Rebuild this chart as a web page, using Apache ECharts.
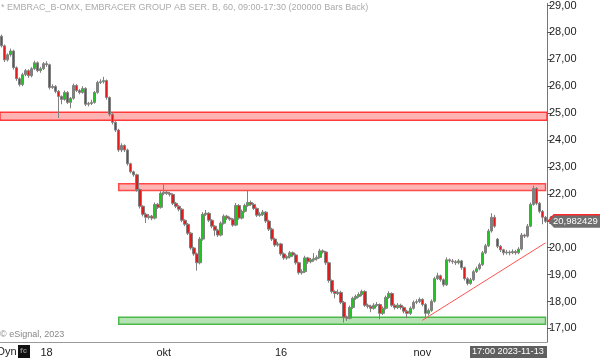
<!DOCTYPE html>
<html><head><meta charset="utf-8">
<script src="https://cdn.jsdelivr.net/npm/echarts@6/dist/echarts.min.js"></script>
<style>html,body{margin:0;padding:0;background:#fff}#c{width:600px;height:358px}</style>
</head><body><div id="c"></div>
<script>
// Hourly OHLC bars (EMBRAC_B)
const opens=[
27.86,27.50,26.98,27.17,27.31,26.69,26.28,26.06,26.43,26.58,
26.39,26.65,26.87,26.58,26.65,26.84,26.80,25.95,25.99,25.81,
25.62,25.51,25.77,25.40,25.55,26.03,25.84,25.77,25.92,25.33,
25.36,25.40,25.77,26.14,26.17,26.21,25.58,24.96,24.66,24.37,
23.63,23.80,23.63,23.12,22.82,22.71,22.16,21.54,21.24,21.13,
21.17,21.10,21.61,21.50,22.02,22.06,22.02,21.98,21.65,21.54,
21.43,21.02,20.87,20.54,19.99,19.77,19.44,20.32,21.24,21.28,
21.02,20.80,20.65,20.47,20.91,21.17,21.10,21.06,20.84,21.57,
21.10,21.35,21.57,21.68,21.61,21.46,21.21,21.24,21.32,20.99,
20.69,20.32,20.10,20.14,19.77,19.62,19.66,19.81,19.73,19.44,
19.07,19.11,19.62,19.48,19.55,19.59,19.64,19.88,19.84,19.44,
18.78,18.37,18.30,18.34,17.97,17.42,17.38,17.78,18.12,18.19,
18.26,18.37,17.86,17.82,17.75,17.86,17.89,17.56,17.75,18.15,
18.30,17.86,17.78,17.86,17.78,17.64,17.56,17.75,17.97,18.00,
18.08,17.89,17.56,17.67,18.01,18.85,18.96,18.81,18.62,19.55,
19.51,19.48,19.44,19.51,19.26,18.85,18.67,18.81,19.11,19.22,
19.37,19.81,20.07,20.62,21.13,20.32,20.05,19.92,19.81,19.84,
19.81,19.86,19.81,19.95,20.47,20.43,20.80,21.61,22.20,21.65,
21.35,21.13];
const closes=[
27.50,26.98,27.17,27.31,26.69,26.28,26.06,26.43,26.58,26.39,
26.65,26.87,26.58,26.65,26.84,26.80,25.95,25.99,25.81,25.62,
25.51,25.77,25.40,25.55,26.03,25.84,25.77,25.92,25.33,25.36,
25.40,25.77,26.14,26.17,26.21,25.58,24.96,24.66,24.37,23.63,
23.80,23.63,23.12,22.82,22.71,22.16,21.54,21.24,21.13,21.17,
21.10,21.61,21.50,22.02,22.06,22.02,21.98,21.65,21.54,21.43,
21.02,20.87,20.54,19.99,19.77,19.44,20.32,21.24,21.28,21.02,
20.80,20.65,20.47,20.91,21.17,21.10,21.06,20.84,21.57,21.10,
21.35,21.57,21.68,21.61,21.46,21.21,21.24,21.32,20.99,20.69,
20.32,20.10,20.14,19.77,19.62,19.66,19.81,19.73,19.44,19.07,
19.11,19.62,19.48,19.55,19.59,19.64,19.88,19.84,19.44,18.78,
18.37,18.30,18.34,17.97,17.42,17.38,17.78,18.12,18.19,18.26,
18.37,17.86,17.82,17.75,17.86,17.89,17.56,17.75,18.15,18.30,
17.86,17.78,17.86,17.78,17.64,17.56,17.75,17.97,18.00,18.08,
17.89,17.56,17.67,18.01,18.85,18.96,18.81,18.62,19.55,19.51,
19.48,19.44,19.51,19.26,18.85,18.67,18.81,19.11,19.22,19.37,
19.81,20.07,20.62,21.13,20.80,20.05,19.92,19.81,19.84,19.81,
19.86,19.81,19.95,20.47,20.43,20.80,21.61,22.20,21.65,21.35,
21.13,20.98];
const highs=[
27.92,27.55,27.22,27.40,27.36,26.74,26.33,26.50,26.64,26.63,
26.71,26.95,26.92,26.72,26.90,26.93,26.84,26.07,26.04,25.86,
25.66,25.84,25.82,25.60,26.10,26.08,25.90,26.00,25.96,25.42,
25.50,25.82,26.20,26.26,26.35,26.25,25.62,25.00,24.70,24.42,
23.88,23.84,23.68,23.16,22.86,22.75,22.20,21.58,21.30,21.25,
21.22,21.68,21.66,22.10,22.36,22.12,22.08,22.02,21.70,21.58,
21.47,21.06,20.92,20.58,20.03,19.82,20.40,21.32,21.40,21.32,
21.06,20.84,20.70,20.98,21.24,21.22,21.16,21.10,21.66,21.62,
21.42,21.64,22.13,21.75,21.66,21.50,21.32,21.40,21.36,21.04,
20.74,20.37,20.22,20.18,19.82,19.72,19.88,19.86,19.78,19.48,
19.20,19.70,19.66,19.62,19.80,19.72,19.96,19.94,19.88,19.48,
18.82,18.42,18.45,18.40,18.02,17.48,17.85,18.18,18.26,18.34,
18.44,18.42,17.92,17.88,17.94,17.98,17.93,17.82,18.22,18.38,
18.34,17.92,17.94,17.92,17.82,17.70,17.82,18.04,18.08,18.15,
18.12,17.94,17.74,18.08,18.92,19.07,19.00,18.86,19.64,19.60,
19.58,19.54,19.58,19.55,19.30,18.90,18.88,19.18,19.30,19.44,
19.88,20.14,20.70,21.28,21.22,20.36,20.10,19.96,19.92,19.90,
19.94,19.92,20.02,20.55,20.52,20.88,21.68,22.31,22.25,21.70,
21.40,21.18];
const lows=[
27.44,26.90,26.92,27.10,26.62,26.20,25.99,26.00,26.37,26.31,
26.33,26.60,26.52,26.50,26.60,26.72,25.88,25.90,25.74,24.82,
25.33,25.46,25.34,25.18,25.50,25.78,25.70,25.72,25.26,25.25,
25.30,25.35,25.72,26.08,26.10,25.50,24.88,24.58,24.30,23.56,
23.55,23.56,23.05,22.76,22.64,22.08,21.46,21.16,20.92,21.05,
21.02,21.05,21.44,21.45,21.95,21.96,21.90,21.58,21.47,21.35,
20.95,20.80,20.47,19.92,19.70,19.15,19.38,20.26,21.18,20.95,
20.72,20.44,20.40,20.42,20.86,21.03,21.00,20.78,20.80,21.04,
21.05,21.30,21.52,21.55,21.40,21.14,21.15,21.18,20.92,20.62,
20.25,20.03,20.04,19.70,19.55,19.55,19.60,19.66,19.37,19.00,
19.00,19.06,19.40,19.42,19.48,19.52,19.60,19.78,19.36,18.70,
18.30,18.12,18.24,17.90,17.22,17.28,17.34,17.72,18.06,18.14,
18.20,17.80,17.74,17.60,17.70,17.80,17.34,17.50,17.70,18.10,
17.80,17.70,17.72,17.70,17.56,17.38,17.50,17.70,17.90,17.94,
17.82,17.38,17.48,17.62,17.96,18.80,18.74,18.55,18.58,19.44,
19.40,19.36,19.38,19.18,18.78,18.60,18.62,18.76,19.06,19.16,
19.32,19.76,20.02,20.56,20.74,19.98,19.84,19.72,19.74,19.72,
19.76,19.74,19.76,19.90,20.36,20.38,20.76,21.56,21.58,21.28,
20.87,20.92];

// time axis ticks (bar index -> label)
const tickIndex=[15,54,93,140,169];
const tickText=['18','okt','16','nov',''];
// price axis labels
const priceTicks=[17,18,19,20,21,22,23,24,25,26,27,28,29];
// drawn zones: [low, high] and start bar
const resistZone1=[24.74,25.03];
const resistZone2=[22.125,22.38];
const supportZone=[17.158,17.416];
const zoneStartBar=39;
const lastBar=181;
// trend line: [bar, price]
const trendFrom=[140,17.30];
const trendTo=[181,20.18];
const lastPrice=20.982429;
const lastTimeText='17:00 2023-11-13';
const titleText='* EMBRAC_B-OMX, EMBRACER GROUP AB SER. B, 60, 09:00-17:30 (200000 Bars Back)';

const FONT="'Liberation Sans', Arial, sans-serif";
const cats=closes.map((_,i)=>String(i));
const ohlc=closes.map((c,i)=>[opens[i],c,lows[i],highs[i]]);
const isTick=(i)=>tickIndex.indexOf(i)>=0;

const chart=echarts.init(document.getElementById('c'),null,{renderer:'canvas'});
chart.setOption({
  animation:false,
  backgroundColor:'#fff',
  grid:{left:0,right:53,top:0,bottom:16,containLabel:false},
  xAxis:{
    type:'category',data:cats,boundaryGap:true,
    axisLine:{lineStyle:{color:'#999',width:1}},
    axisTick:{alignWithLabel:true,interval:(i)=>isTick(i),length:3,lineStyle:{color:'#777'}},
    axisLabel:{interval:(i)=>isTick(i),formatter:(v,i)=>tickText[tickIndex.indexOf(Number(v))]||'',
      color:'#222',fontSize:11,fontFamily:FONT,margin:5},
    splitLine:{show:false}
  },
  yAxis:{
    type:'value',position:'right',min:16.496,max:29.079,scale:true,
    axisLine:{show:true,lineStyle:{color:'#777',width:1}},
    axisTick:{show:true,customValues:priceTicks,length:4,lineStyle:{color:'#555'}},
    axisLabel:{customValues:priceTicks,formatter:(v)=>v.toFixed(2).replace('.',','),
      color:'#222',fontSize:11,fontFamily:FONT,margin:2},
    splitLine:{show:false}
  },
  series:[{
    type:'candlestick',data:ohlc,barWidth:3,
    itemStyle:{color:'#22c322',color0:'#e01b1b',borderColor:'#808080',borderColor0:'#808080',borderWidth:1},
    markArea:{silent:true,data:[
      [{yAxis:resistZone1[1],itemStyle:{color:'#ffb4b4',borderColor:'#ff3a3a',borderWidth:1.5}},{yAxis:resistZone1[0]}],
      [{xAxis:zoneStartBar,yAxis:resistZone2[1],itemStyle:{color:'#ffb4b4',borderColor:'#ff4a4a',borderWidth:1.5}},{xAxis:lastBar,yAxis:resistZone2[0]}],
      [{xAxis:zoneStartBar,yAxis:supportZone[1],itemStyle:{color:'#b6e3b3',borderColor:'#4cb84c',borderWidth:1.5}},{xAxis:lastBar,yAxis:supportZone[0]}]
    ]},
    markLine:{silent:true,symbol:['none','none'],label:{show:false},
      lineStyle:{color:'#ff5252',width:1,type:'solid'},
      data:[[{coord:trendFrom},{coord:trendTo}]]}
  }]
});

const py=chart.convertToPixel({yAxisIndex:0},lastPrice);
const h=6.5;
chart.setOption({graphic:[
  {type:'text',z:100,left:1,top:3,style:{text:titleText,fill:'#aaa',font:'9px '+FONT}},
  {type:'text',z:100,left:0,top:330,style:{text:'\u00a9 eSignal, 2023',fill:'#888',font:'9px '+FONT}},
  {type:'text',z:100,x:-3,y:346,style:{text:'Dyn',fill:'#222',font:'11px '+FONT}},
  {type:'rect',z:100,shape:{x:18,y:345,width:12,height:13},style:{fill:'#111'}},
  {type:'text',z:101,x:20,y:347,style:{text:'fc',fill:'#888',font:'bold 8px '+FONT}},
  {type:'polygon',z:100,shape:{points:[[548,py],[554,py-h],[600,py-h],[600,py+h],[554,py+h]]},style:{fill:'#6f6f6f'}},
  {type:'polyline',z:101,shape:{points:[[548,py],[554,py-h],[600,py-h]]},style:{stroke:'#ff2a2a',lineWidth:1.5,fill:null}},
  {type:'text',z:102,x:553,y:py-5,style:{text:lastPrice.toFixed(6).replace('.',','),fill:'#fff',font:'9.5px '+FONT}},
  {type:'rect',z:100,shape:{x:470,y:346,width:77,height:12},style:{fill:'#5f5f5f'}},
  {type:'text',z:101,x:472,y:347,style:{text:lastTimeText,fill:'#fff',font:'9.2px '+FONT}}
]});
</script></body></html>
